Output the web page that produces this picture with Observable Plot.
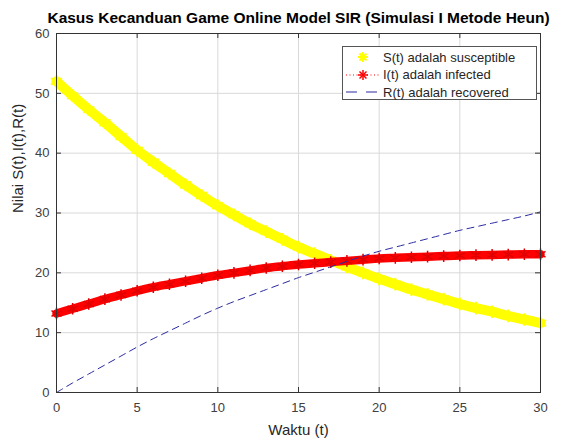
<!DOCTYPE html>
<html>
<head>
<meta charset="utf-8">
<script src="https://cdn.jsdelivr.net/npm/d3@7"></script>
<script src="https://cdn.jsdelivr.net/npm/@observablehq/plot@0.6"></script>
<style>
  html, body { margin: 0; padding: 0; background: #fff; }
  #wrap { position: relative; width: 568px; height: 438px; font-family: "Liberation Sans", Arial, sans-serif; }
  #legend { position: absolute; left: 342px; top: 46px; width: 195px; height: 54px; border: 1px solid #555; background: #fff; box-sizing: border-box; }
  .item { position: absolute; left: 0; height: 16px; display: flex; align-items: center; font-size: 13px; color: #262626; white-space: nowrap; }
  .item svg { width: 40px; height: 16px; margin-right: 0px; }
</style>
</head>
<body>
<div id="wrap"><div id="chart"></div>
<div id="legend"></div></div>
<script>
const title = "Kasus Kecanduan Game Online Model SIR (Simulasi I Metode Heun)";
const xLabel = "Waktu (t)";
const yLabel = "Nilai S(t),I(t),R(t)";
const seriesNames = ["S(t) adalah susceptible", "I(t) adalah infected", "R(t) adalah recovered"];
const xTicks = [0, 5, 10, 15, 20, 25, 30];
const yTicks = [0, 10, 20, 30, 40, 50, 60];

const waktu = [0,1,2,3,4,5,6,7,8,9,10,11,12,13,14,15,16,17,18,19,20,21,22,23,24,25,26,27,28,29,30];
const S = [52.0,49.6,47.3,45.1,42.8,40.5,38.5,36.6,34.7,32.9,31.2,29.7,28.2,26.9,25.6,24.3,23.2,22.1,21.0,20.0,19.0,18.1,17.2,16.4,15.6,14.8,14.1,13.5,12.8,12.2,11.6];
const I = [13.2,14.0,14.8,15.6,16.3,17.0,17.6,18.1,18.6,19.1,19.6,20.0,20.4,20.8,21.1,21.4,21.6,21.8,22.0,22.2,22.4,22.5,22.6,22.7,22.8,22.9,22.95,23.0,23.05,23.1,23.1];
const R = [0.0,1.6,3.1,4.6,6.1,7.6,9.0,10.3,11.6,12.9,14.1,15.2,16.2,17.2,18.2,19.2,20.1,21.0,21.9,22.8,23.6,24.3,25.0,25.7,26.4,27.1,27.7,28.3,28.9,29.5,30.2];

const colS = "#ffff00", colI = "#ff0000", colR = "#2a2aa0";

const dS = waktu.map((t, i) => ({t, v: S[i]}));
const dI = waktu.map((t, i) => ({t, v: I[i]}));
const dR = waktu.map((t, i) => ({t, v: R[i]}));

const W = 568, H = 438, mL = 56, mR = 28, mT = 33, mB = 46;
const pw = W - mL - mR, ph = H - mT - mB;
const txt = "#404040";

const chart = Plot.plot({
  width: W, height: H,
  marginLeft: mL, marginRight: mR, marginTop: mT, marginBottom: mB,
  style: { fontFamily: "'Liberation Sans', Arial, sans-serif", background: "#fff", overflow: "visible" },
  x: { domain: [0, 30] },
  y: { domain: [0, 60] },
  marks: [
    Plot.gridX(xTicks, { stroke: "#d9d9d9", strokeOpacity: 1 }),
    Plot.gridY(yTicks, { stroke: "#d9d9d9", strokeOpacity: 1 }),
    Plot.line(dS, { x: "t", y: "v", stroke: colS, strokeWidth: 10, curve: "catmull-rom" }),
    Plot.dot(dS, { x: "t", y: "v", symbol: "asterisk", r: 6, stroke: colS, strokeWidth: 2 }),
    Plot.line(dI, { x: "t", y: "v", stroke: colI, strokeWidth: 8.5, curve: "catmull-rom" }),
    Plot.dot(dI, { x: "t", y: "v", symbol: "asterisk", r: 5.5, stroke: "#e00000", strokeWidth: 1.5 }),
    Plot.line(dR, { x: "t", y: "v", stroke: colR, strokeWidth: 1, strokeDasharray: "7,5", curve: "catmull-rom" }),
    Plot.frame({ stroke: "#333", strokeWidth: 1 }),
    Plot.tickX(xTicks, { x: d => d, stroke: "#333", insetTop: ph - 5 }),
    Plot.tickX(xTicks, { x: d => d, stroke: "#333", insetBottom: ph - 5 }),
    Plot.tickY(yTicks, { y: d => d, stroke: "#333", insetRight: pw - 5 }),
    Plot.tickY(yTicks, { y: d => d, stroke: "#333", insetLeft: pw - 5 }),
    Plot.axisX(xTicks, { tickSize: 0, tickPadding: 10, fontSize: 13, color: txt, label: null }),
    Plot.axisY(yTicks, { tickSize: 0, tickPadding: 7, fontSize: 13, color: txt, label: null }),
    Plot.text([title], { text: d => d, frameAnchor: "top", lineAnchor: "middle", dy: -15, fontSize: 15.5, fontWeight: "bold", fill: "#000", letterSpacing: 0.2 }),
    Plot.text([xLabel], { text: d => d, frameAnchor: "bottom", lineAnchor: "middle", dy: 38, fontSize: 15, fill: "#262626" }),
    Plot.text([yLabel], { text: d => d, frameAnchor: "left", dx: -38, rotate: -90, fontSize: 15, fill: "#262626" })
  ]
});
document.getElementById("chart").appendChild(chart);

// legend
const legend = document.getElementById("legend");
const star = (c, sw) => `<g stroke="${c}" stroke-width="${sw}"><line x1="20" y1="3" x2="20" y2="13"/><line x1="15" y1="8" x2="25" y2="8"/><line x1="16.5" y1="4.5" x2="23.5" y2="11.5"/><line x1="16.5" y1="11.5" x2="23.5" y2="4.5"/></g>`;
const swatches = [
  `<svg>${star(colS, 2)}</svg>`,
  `<svg><line x1="3" y1="8" x2="37" y2="8" stroke="${colI}" stroke-width="1" stroke-dasharray="1,2.5"/>${star(colI, 1.5)}</svg>`,
  `<svg><line x1="3" y1="8" x2="37" y2="8" stroke="${colR}" stroke-width="1.2" stroke-dasharray="11,9"/></svg>`
];
seriesNames.forEach((name, i) => {
  const el = document.createElement("div");
  el.className = "item";
  el.style.top = (2 + i * 17.7) + "px";
  el.innerHTML = swatches[i] + `<span>${name}</span>`;
  legend.appendChild(el);
});
</script>
</body>
</html>
